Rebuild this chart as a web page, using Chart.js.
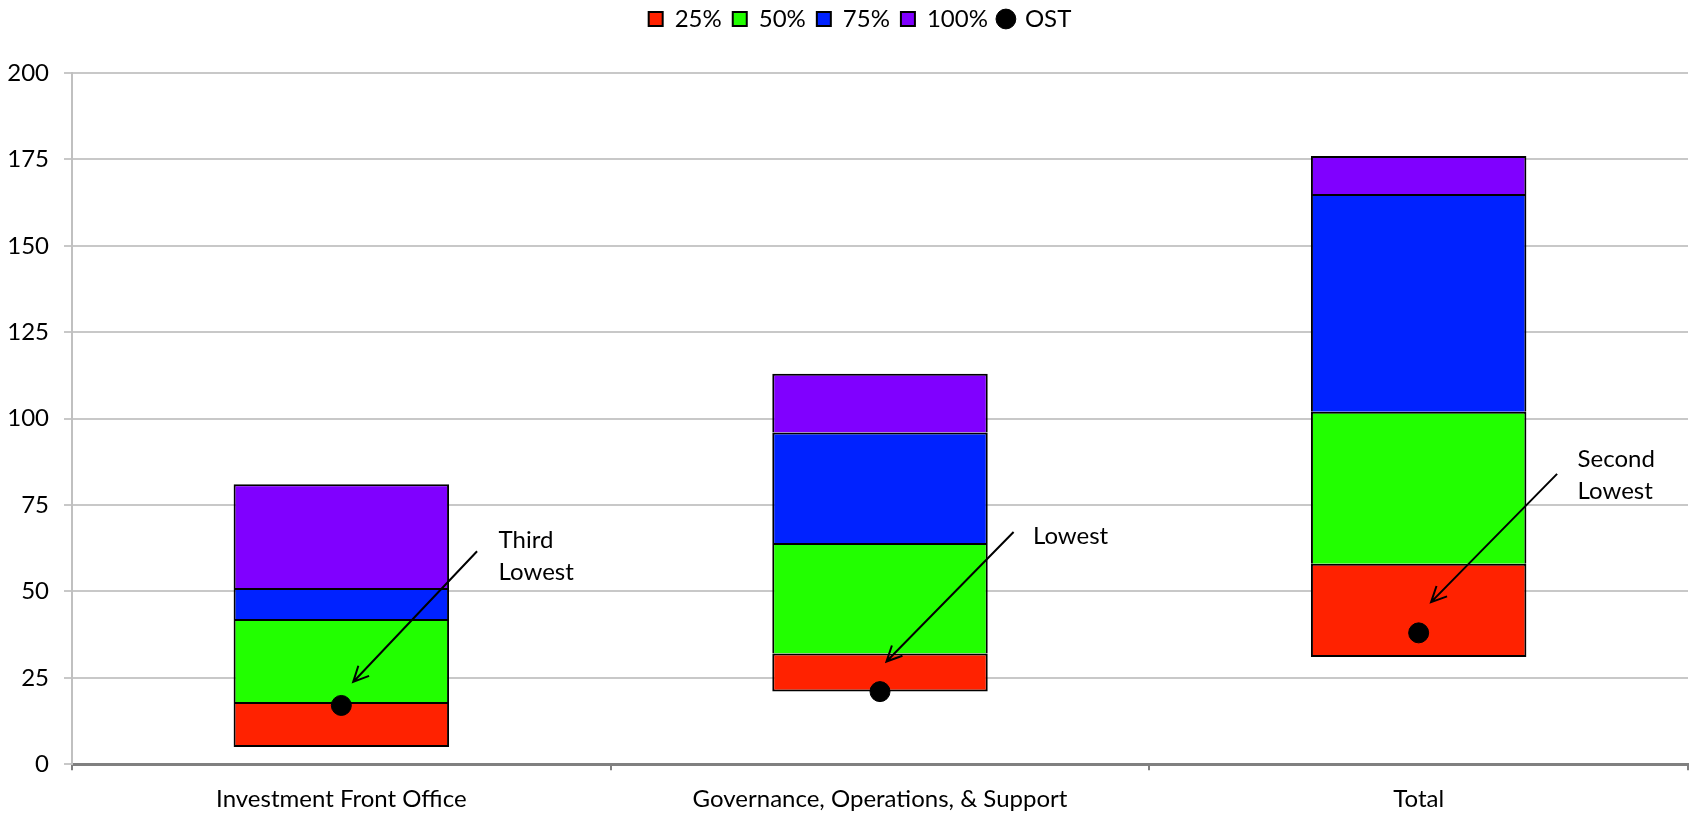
<!DOCTYPE html>
<html>
<head>
<meta charset="utf-8">
<script src="https://cdn.jsdelivr.net/npm/chart.js@4"></script>
<style>
  html, body { margin: 0; padding: 0; background: #fff; }
  #wrap { width: 1692px; height: 814px; }
</style>
</head>
<body>
<div id="wrap"><canvas id="chart"></canvas></div>
<script>
// データ
const categories = ["Investment Front Office", "Governance, Operations, & Support", "Total"];
const minVals = [5, 21, 31];
const p25Vals = [18, 32, 58];
const p50Vals = [42, 64, 102];
const p75Vals = [51, 96, 165];
const p100Vals = [81, 113, 176];
const ostVals = [17, 21, 38];
const yTicks = [0, 25, 50, 75, 100, 125, 150, 175, 200];

// 注釈（矢印の始点・終点とラベル位置、データ単位）
const noteTexts = [["Third", "Lowest"], ["Lowest"], ["Second", "Lowest"]];
const noteTextPos = [[0.292, 64.7], [1.284, 65.9], [2.295, 88.1]];
const arrowFrom = [[0.252, 61.6], [1.248, 67.2], [2.257, 84.0]];
const arrowTo = [[0.022, 23.8], [1.012, 29.7], [2.023, 46.9]];

const FONT = "Lato, 'Open Sans', sans-serif";
const FONT_SIZE = 24;

function span(lo, hi) {
  return lo.map((v, i) => [v, hi[i]]);
}

// 一番下の区間だけ下辺の枠線を描く（境界線が二重にならないように）
function barSet(label, data, color, isBottom) {
  return {
    type: "bar",
    label: label,
    data: data,
    backgroundColor: color,
    borderColor: "#000000",
    borderWidth: 2,
    borderSkipped: isBottom ? false : "start",
    pointStyle: "rect",
    grouped: false,
    barPercentage: 0.4,
    categoryPercentage: 1,
    order: 2,
  };
}

// 凡例の下に余白を足し、少し右へずらす
const legendGap = {
  id: "legendGap",
  beforeInit(chart) {
    const fit = chart.legend.fit;
    chart.legend.fit = function () {
      fit.bind(chart.legend)();
      this.height += 32;
    };
  },
  afterLayout(chart) {
    chart.legend.left += 16;
    chart.legend.right += 16;
  },
};

// 矢印とテキストを描くプラグイン
const notesPlugin = {
  id: "notes",
  afterDatasetsDraw(chart) {
    const { ctx, scales } = chart;
    const xs = scales.x, ys = scales.y;
    ctx.save();
    ctx.strokeStyle = "#000";
    ctx.lineWidth = 2;
    arrowFrom.forEach((f, i) => {
      const x1 = xs.getPixelForValue(f[0]), y1 = ys.getPixelForValue(f[1]);
      const x2 = xs.getPixelForValue(arrowTo[i][0]), y2 = ys.getPixelForValue(arrowTo[i][1]);
      ctx.beginPath();
      ctx.moveTo(x1, y1);
      ctx.lineTo(x2, y2);
      const ang = Math.atan2(y2 - y1, x2 - x1);
      const len = 17;
      ctx.moveTo(x2 - len * Math.cos(ang - 0.45), y2 - len * Math.sin(ang - 0.45));
      ctx.lineTo(x2, y2);
      ctx.lineTo(x2 - len * Math.cos(ang + 0.45), y2 - len * Math.sin(ang + 0.45));
      ctx.stroke();
    });
    ctx.fillStyle = "#000";
    ctx.font = FONT_SIZE + "px " + FONT;
    ctx.textAlign = "left";
    ctx.textBaseline = "middle";
    noteTexts.forEach((lines, i) => {
      const x = xs.getPixelForValue(noteTextPos[i][0]);
      const y = ys.getPixelForValue(noteTextPos[i][1]);
      lines.forEach((t, k) => ctx.fillText(t, x, y + k * 32));
    });
    ctx.restore();
  },
};

new Chart(document.getElementById("chart"), {
  data: {
    labels: categories,
    datasets: [
      barSet("25%", span(minVals, p25Vals), "#ff2200", true),
      barSet("50%", span(p25Vals, p50Vals), "#22ff00", false),
      barSet("75%", span(p50Vals, p75Vals), "#0022ff", false),
      barSet("100%", span(p75Vals, p100Vals), "#8000ff", false),
      {
        type: "line",
        label: "OST",
        data: ostVals,
        showLine: false,
        pointStyle: "circle",
        pointRadius: 10,
        pointHoverRadius: 10,
        backgroundColor: "#000",
        borderColor: "#000",
        order: 1,
      },
    ],
  },
  options: {
    responsive: true,
    maintainAspectRatio: false,
    animation: false,
    layout: { autoPadding: false, padding: { left: 0, right: 4, top: -4, bottom: -15 } },
    plugins: {
      tooltip: { enabled: false },
      legend: {
        position: "top",
        labels: {
          usePointStyle: true,
          boxWidth: 14,
          boxHeight: 14,
          padding: 11,
          color: "#000",
          font: { family: FONT, size: FONT_SIZE },
          sort: (a, b) => a.datasetIndex - b.datasetIndex,
        },
      },
    },
    scales: {
      x: {
        offset: true,
        grid: {
          offset: true,
          drawOnChartArea: false,
          drawTicks: true,
          tickLength: 6,
          color: "#808080",
          lineWidth: 2,
        },
        border: { color: "#808080", width: 3 },
        ticks: { color: "#000", font: { family: FONT, size: FONT_SIZE }, padding: 15 },
      },
      y: {
        min: yTicks[0],
        max: yTicks[yTicks.length - 1],
        afterBuildTicks: (axis) => {
          axis.ticks = yTicks.map((v) => ({ value: v }));
        },
        afterFit: (axis) => {
          axis.width = 72;
        },
        grid: { color: "#c8c8c8", lineWidth: 2, tickLength: 8 },
        border: { color: "#c0c0c0", width: 2 },
        ticks: { color: "#000", font: { family: FONT, size: FONT_SIZE }, padding: 15 },
      },
    },
  },
  plugins: [legendGap, notesPlugin],
});
</script>
</body>
</html>
